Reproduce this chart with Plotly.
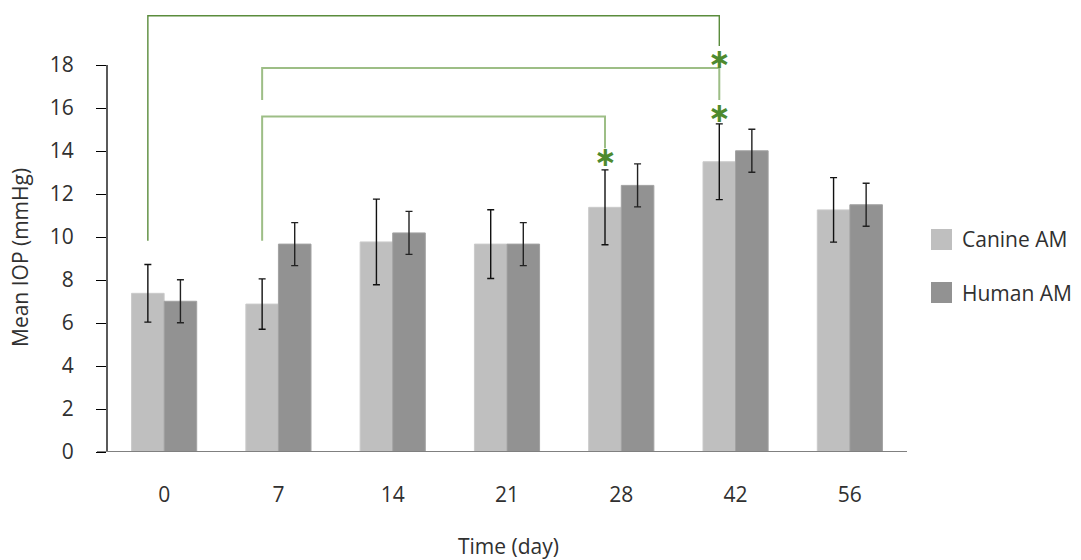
import plotly.graph_objects as go

# ---------------- data ----------------
days = ["0", "7", "14", "21", "28", "42", "56"]
canine = [7.38, 6.88, 9.77, 9.67, 11.38, 13.50, 11.26]
canine_err = [1.34, 1.17, 1.99, 1.60, 1.74, 1.76, 1.50]
human = [7.01, 9.67, 10.19, 9.67, 12.40, 14.01, 11.50]
human_err = [1.00, 1.00, 1.00, 1.00, 1.00, 1.00, 1.00]
series_names = ["Canine AM", "Human AM"]
y_ticks = [0, 2, 4, 6, 8, 10, 12, 14, 16, 18]

# significance brackets (index of day, heights in mmHg)
br_from = [0, 1, 1]
br_to = [5, 5, 4]
br_top = [20.29, 17.86, 15.60]
br_left_bottom = [9.83, 16.37, 9.83]
br_right_bottom = [18.88, 16.37, 14.13]
star_y = [18.31, 15.78, 13.73]

# ---------------- style ----------------
W, H = 1081, 560
ML, MR, MT, MB = 107, 174, 8, 108
PW, PH = W - ML - MR, H - MT - MB
PX_PER_UNIT = 21.5
YMAX = PH / PX_PER_UNIT
FONT = "Open Sans"
TXT = "#303030"
C_CANINE = "#BFBFBF"
C_HUMAN = "#929292"
BAR_GAP = 0.43
BAR_W = (1 - BAR_GAP) / 2
br_colors = ["#5A8C3C", "#9DBE86", "#9DBE86"]
br_widths = [1.4, 2.0, 2.0]


def px2paper_x(px):
    return (px - ML) / PW


def px2paper_y(py):
    return (H - MB - py) / PH


fig = go.Figure()
fig.add_trace(go.Bar(
    x=days, y=canine, name=series_names[0],
    marker=dict(color=C_CANINE, line=dict(color="#CACACA", width=1)),
    error_y=dict(type="data", array=canine_err, visible=True,
                 color="#111111", thickness=1.4, width=3.5),
    showlegend=False,
))
fig.add_trace(go.Bar(
    x=days, y=human, name=series_names[1],
    marker=dict(color=C_HUMAN, line=dict(color="#A2A2A2", width=1)),
    error_y=dict(type="data", array=human_err, visible=True,
                 color="#222222", thickness=1.4, width=3.5),
    showlegend=False,
))

# bracket lines (x in category units: canine bar centre)
for i in range(len(br_from)):
    xa = br_from[i] - BAR_W / 2
    xb = br_to[i] - BAR_W / 2
    fig.add_trace(go.Scatter(
        x=[xa, xa, xb, xb],
        y=[br_left_bottom[i], br_top[i], br_top[i], br_right_bottom[i]],
        mode="lines", line=dict(color=br_colors[i], width=br_widths[i]),
        hoverinfo="skip", showlegend=False, cliponaxis=False,
        xaxis="x2",
    ))
    fig.add_annotation(
        x=xb, y=star_y[i], xref="x2", yref="y", text="<b>∗</b>",
        showarrow=False, font=dict(family="DejaVu Sans", size=27, color="#4E8A2E"),
        xanchor="center", yanchor="middle",
    )

shapes = []
# y axis line (0..18)
shapes.append(dict(type="line", xref="paper", yref="y", x0=0, x1=0, y0=0, y1=18,
                   line=dict(color="#000000", width=1.3), layer="above"))
# x axis line
shapes.append(dict(type="line", xref="paper", yref="y", x0=px2paper_x(97), x1=1, y0=0, y1=0,
                   line=dict(color="#808080", width=2), layer="above"))

# manual legend
leg_colors = [C_CANINE, C_HUMAN]
leg_cy = [239.5, 292.5]
annotations = []
for name, col, cy in zip(series_names, leg_colors, leg_cy):
    shapes.append(dict(type="rect", xref="paper", yref="paper",
                       x0=px2paper_x(931), x1=px2paper_x(952),
                       y0=px2paper_y(cy + 10.5), y1=px2paper_y(cy - 10.5),
                       fillcolor=col, line=dict(width=0)))
    annotations.append(dict(x=px2paper_x(960), y=px2paper_y(cy), xref="paper", yref="paper",
                            text=name, showarrow=False, xanchor="left", yanchor="middle",
                            font=dict(family=FONT, size=21, color=TXT)))

# axis titles
annotations.append(dict(x=px2paper_x(509), y=px2paper_y(546), xref="paper", yref="paper",
                        text="Time (day)", showarrow=False, xanchor="center", yanchor="middle",
                        font=dict(family=FONT, size=21, color=TXT)))
annotations.append(dict(x=px2paper_x(20), y=px2paper_y(258), xref="paper", yref="paper",
                        text="Mean IOP (mmHg)", showarrow=False, xanchor="center", yanchor="middle",
                        textangle=-90, font=dict(family=FONT, size=21, color=TXT)))

for a in annotations:
    fig.add_annotation(**a)

fig.update_layout(
    width=W, height=H,
    margin=dict(l=ML, r=MR, t=MT, b=MB, pad=0),
    paper_bgcolor="white", plot_bgcolor="white",
    barmode="group", bargap=BAR_GAP, bargroupgap=0,
    font=dict(family=FONT, size=21, color=TXT),
    shapes=shapes,
    xaxis=dict(type="category", categoryorder="array", categoryarray=days,
               range=[-0.5, 6.5], showline=False, ticks="", showgrid=False,
               zeroline=False, ticklabelstandoff=28,
               tickfont=dict(family=FONT, size=21, color=TXT)),
    xaxis2=dict(overlaying="x", range=[-0.5, 6.5], visible=False, type="linear"),
    yaxis=dict(range=[0, YMAX], tickvals=y_ticks, showline=False, showgrid=False,
               zeroline=False, ticks="outside", ticklen=10, tickwidth=1.3,
               tickcolor="#000000", ticklabelstandoff=18,
               tickfont=dict(family=FONT, size=21, color=TXT)),
    showlegend=False,
)

fig.write_html("out.html", config={"displayModeBar": False},
               post_script="document.body.style.margin='0';document.body.style.overflow='hidden';")
